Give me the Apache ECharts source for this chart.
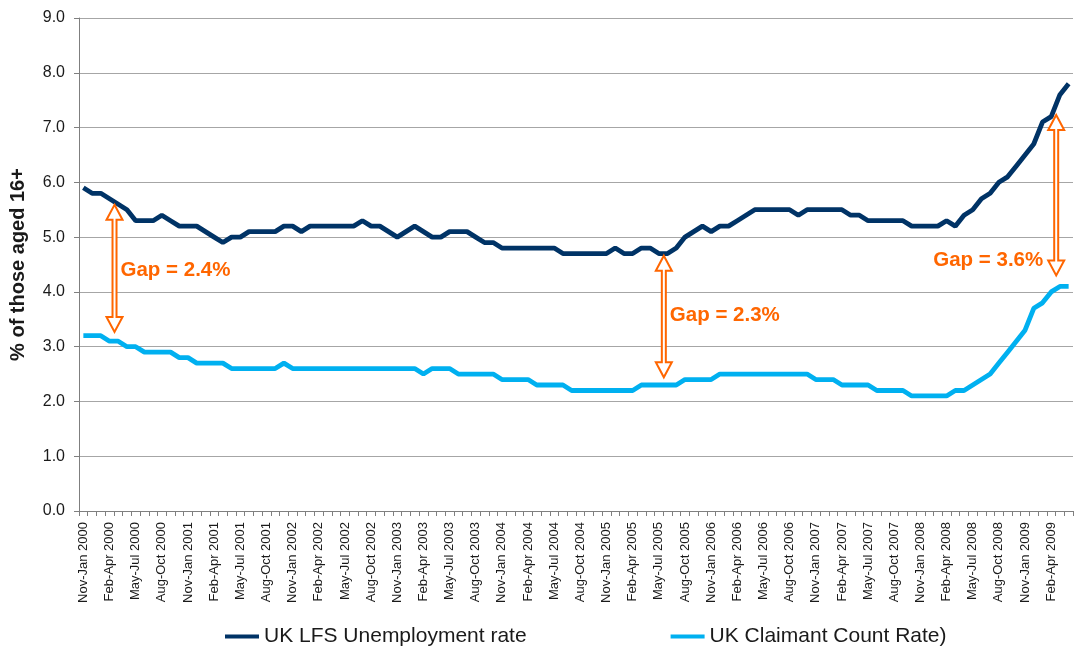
<!DOCTYPE html>
<html>
<head>
<meta charset="utf-8">
<script src="https://cdn.jsdelivr.net/npm/echarts@6/dist/echarts.min.js"></script>
<style>
html,body{margin:0;padding:0;background:#fff;}
#chart{width:1078px;height:647px;}
</style>
</head>
<body>
<div id="chart"></div>
<script>
// ---- category building blocks ----
var periods = ['Nov-Jan','Dec-Feb','Jan-Mar','Feb-Apr','Mar-May','Apr-Jun','May-Jul','Jun-Aug','Jul-Sep','Aug-Oct','Sep-Nov','Oct-Dec'];
var years = [2000,2001,2002,2003,2004,2005,2006,2007,2008,2009];
var lastYearPeriods = 6; // 2009 runs Nov-Jan .. Apr-Jun

// ---- series values (% of those aged 16+) ----
var lfsRate = [
  5.9,5.8,5.8,5.7,5.6,5.5,5.3,5.3,5.3,5.4,5.3,5.2,
  5.2,5.2,5.1,5.0,4.9,5.0,5.0,5.1,5.1,5.1,5.1,5.2,
  5.2,5.1,5.2,5.2,5.2,5.2,5.2,5.2,5.3,5.2,5.2,5.1,
  5.0,5.1,5.2,5.1,5.0,5.0,5.1,5.1,5.1,5.0,4.9,4.9,
  4.8,4.8,4.8,4.8,4.8,4.8,4.8,4.7,4.7,4.7,4.7,4.7,
  4.7,4.8,4.7,4.7,4.8,4.8,4.7,4.7,4.8,5.0,5.1,5.2,
  5.1,5.2,5.2,5.3,5.4,5.5,5.5,5.5,5.5,5.5,5.4,5.5,
  5.5,5.5,5.5,5.5,5.4,5.4,5.3,5.3,5.3,5.3,5.3,5.2,
  5.2,5.2,5.2,5.3,5.2,5.4,5.5,5.7,5.8,6.0,6.1,6.3,
  6.5,6.7,7.1,7.2,7.6,7.8
];
var claimantRate = [
  3.2,3.2,3.2,3.1,3.1,3.0,3.0,2.9,2.9,2.9,2.9,2.8,
  2.8,2.7,2.7,2.7,2.7,2.6,2.6,2.6,2.6,2.6,2.6,2.7,
  2.6,2.6,2.6,2.6,2.6,2.6,2.6,2.6,2.6,2.6,2.6,2.6,
  2.6,2.6,2.6,2.5,2.6,2.6,2.6,2.5,2.5,2.5,2.5,2.5,
  2.4,2.4,2.4,2.4,2.3,2.3,2.3,2.3,2.2,2.2,2.2,2.2,
  2.2,2.2,2.2,2.2,2.3,2.3,2.3,2.3,2.3,2.4,2.4,2.4,
  2.4,2.5,2.5,2.5,2.5,2.5,2.5,2.5,2.5,2.5,2.5,2.5,
  2.4,2.4,2.4,2.3,2.3,2.3,2.3,2.2,2.2,2.2,2.2,2.1,
  2.1,2.1,2.1,2.1,2.2,2.2,2.3,2.4,2.5,2.7,2.9,3.1,
  3.3,3.7,3.8,4.0,4.1,4.1
];
var seriesNames = ['UK LFS Unemployment rate', 'UK Claimant Count Rate)'];

// ---- y-axis ticks ----
var yTicks = [0,1,2,3,4,5,6,7,8,9];

// ---- gap annotations ----
var gapCats   = ['Feb-Apr 2000','May-Jul 2005','Feb-Apr 2009'];
var gapTop    = [5.59, 4.66, 7.23];
var gapBottom = [3.27, 2.44, 4.30];
var gapLabelY = [4.40, 3.58, 4.58];
var gapText   = ['Gap = 2.4%','Gap = 2.3%','Gap = 3.6%'];
var gapSide   = ['right','right','left'];

// build categories
var categories = [];
years.forEach(function (y, yi) {
  var n = (yi === years.length - 1) ? lastYearPeriods : periods.length;
  for (var k = 0; k < n; k++) categories.push(periods[k] + ' ' + y);
});

var FONT = '"Liberation Sans", Arial, sans-serif';
var ORANGE = '#FF6600';

var gapData = gapCats.map(function (c, i) { return [c, gapTop[i], gapBottom[i], gapLabelY[i]]; });

function renderGap(params, api) {
  var i = params.dataIndex;
  var pT = api.coord([api.value(0), api.value(1)]);
  var pB = api.coord([api.value(0), api.value(2)]);
  var pL = api.coord([api.value(0), api.value(3)]);
  var cx = pT[0] + 5, yT = pT[1], yB = pB[1];
  var W = 16, H = 15, S = 4;
  var pts = [
    [cx, yT], [cx + W/2, yT + H], [cx + S/2, yT + H], [cx + S/2, yB - H],
    [cx + W/2, yB - H], [cx, yB], [cx - W/2, yB - H], [cx - S/2, yB - H],
    [cx - S/2, yT + H], [cx - W/2, yT + H]
  ];
  var right = gapSide[i] === 'right';
  return {
    type: 'group',
    children: [
      { type: 'polygon', shape: { points: pts },
        style: { fill: '#ffffff', stroke: ORANGE, lineWidth: 2 } },
      { type: 'text', x: right ? cx + 6 : cx - 13, y: pL[1],
        style: { text: gapText[i], fill: ORANGE, font: 'bold 20.5px ' + FONT,
                 align: right ? 'left' : 'right', verticalAlign: 'middle' } }
    ]
  };
}

var chart = echarts.init(document.getElementById('chart'), null, { renderer: 'canvas' });
chart.setOption({
  animation: false,
  backgroundColor: '#ffffff',
  grid: { left: 79, right: 5, top: 18, bottom: 136, containLabel: false, outerBoundsMode: 'none' },
  legend: {
    data: seriesNames,
    left: 220, top: 621,
    icon: 'rect', itemWidth: 34, itemHeight: 4, itemGap: 144,
    textStyle: { fontSize: 21, color: '#1a1a1a', fontFamily: FONT }
  },
  xAxis: {
    type: 'category',
    data: categories,
    boundaryGap: true,
    axisLine: { lineStyle: { color: '#7f7f7f', width: 1 } },
    axisTick: { show: true, interval: 0, length: 5, lineStyle: { color: '#7f7f7f' } },
    axisLabel: { interval: 2, rotate: 90, margin: 11, fontSize: 13, color: '#1a1a1a', fontFamily: FONT },
    splitLine: { show: false }
  },
  yAxis: {
    type: 'value',
    min: yTicks[0], max: yTicks[yTicks.length - 1], interval: 1,
    name: '% of those aged 16+',
    nameLocation: 'middle', nameRotate: 90, nameGap: 51,
    nameTextStyle: { fontSize: 20, fontWeight: 'bold', color: '#1a1a1a', fontFamily: FONT },
    axisLine: { show: true, lineStyle: { color: '#7f7f7f', width: 1 } },
    axisTick: { show: true, length: 5, lineStyle: { color: '#7f7f7f' } },
    axisLabel: { formatter: function (v) { return v.toFixed(1); }, margin: 14, fontSize: 16, color: '#1a1a1a', fontFamily: FONT },
    splitLine: { show: true, lineStyle: { color: '#a6a6a6', width: 1 } }
  },
  series: [
    { name: seriesNames[0], type: 'line', data: lfsRate, color: '#003366',
      symbol: 'none', lineStyle: { width: 4.8, color: '#003366' }, z: 3 },
    { name: seriesNames[1], type: 'line', data: claimantRate, color: '#00B0F0',
      symbol: 'none', lineStyle: { width: 4.8, color: '#00B0F0' }, z: 3 },
    { name: 'gaps', type: 'custom', data: gapData, renderItem: renderGap,
      encode: { x: 0, y: [1, 2] }, z: 10, silent: true }
  ]
});
</script>
</body>
</html>
